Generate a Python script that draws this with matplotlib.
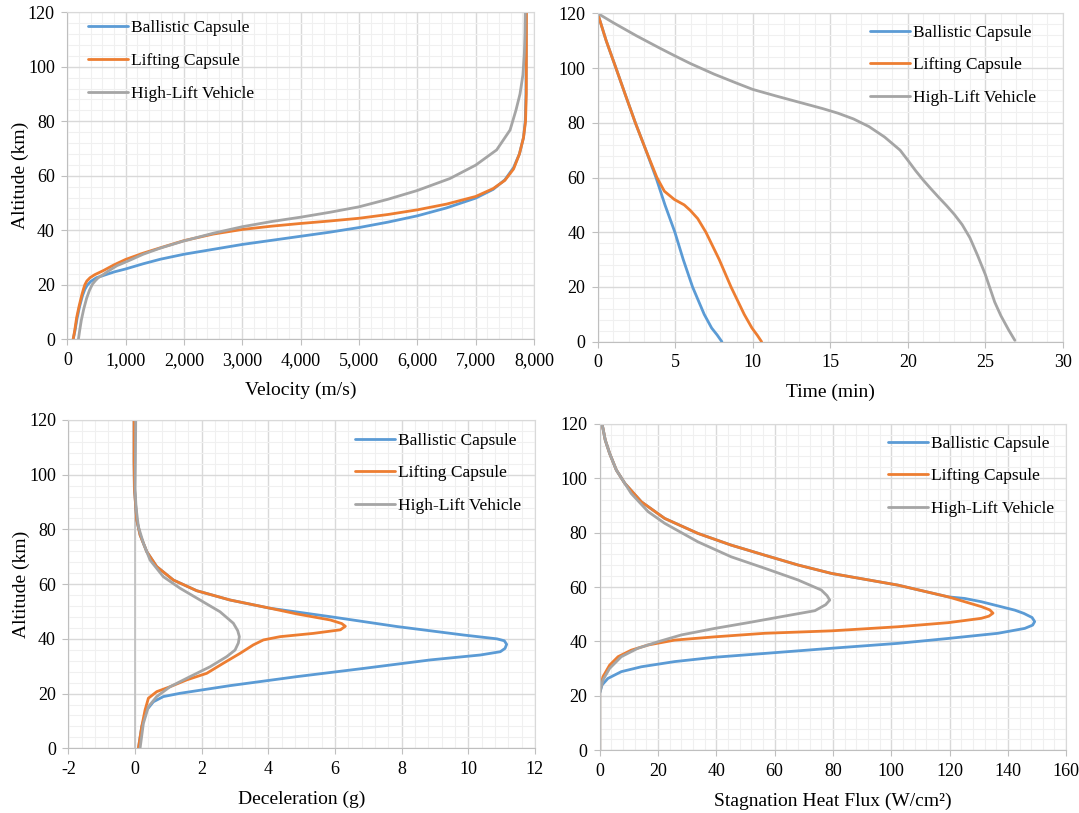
import matplotlib.pyplot as plt
from matplotlib.ticker import MultipleLocator, FuncFormatter

plt.rcParams['font.family'] = ['Liberation Serif', 'DejaVu Serif']
plt.rcParams['axes.unicode_minus'] = False

BLUE = '#5B9BD5'
ORANGE = '#ED7D31'
GRAY = '#A5A5A5'
LABELS = ['Ballistic Capsule', 'Lifting Capsule', 'High-Lift Vehicle']

# --- velocity (m/s) vs altitude (km) ---
vel_ball = [100, 130, 170, 210, 260, 300, 340, 400, 500, 617, 800, 1000, 1300, 1600, 2000, 2500, 3000, 3500,
            4000, 4500, 5000, 5500, 6000, 6500, 7000, 7300, 7500, 7650, 7750, 7820, 7850, 7862, 7865, 7865]
alt_vel_ball = [0, 3, 8, 12, 16, 18.3, 19.8, 21.2, 22.6, 23.4, 24.7, 25.8, 27.7, 29.4, 31.2, 33, 34.8, 36.3,
                37.8, 39.3, 41, 43, 45.3, 48.2, 51.8, 55, 58.5, 63, 68, 74, 80, 90, 105, 120]
vel_lift = [100, 125, 160, 200, 245, 275, 300, 335, 390, 470, 617, 800, 1000, 1300, 1600, 2000, 2500, 3000, 3500,
            4000, 4500, 5000, 5500, 6000, 6500, 7000, 7300, 7500, 7650, 7750, 7820, 7855, 7868, 7870, 7870]
alt_vel_lift = [0, 3, 8, 12, 16, 18.3, 20, 21.4, 22.6, 23.7, 25.2, 27.3, 29.3, 31.6, 33.6, 36.2, 38.6, 40.3, 41.5,
                42.5, 43.4, 44.4, 45.8, 47.5, 49.6, 52.4, 55.3, 58.3, 62.5, 68, 74, 80, 90, 105, 120]
vel_hl = [190, 210, 240, 280, 330, 380, 430, 480, 531, 620, 700, 850, 1018, 1300, 1600, 2000, 2500, 3000, 3500,
          4000, 4500, 5000, 5500, 6000, 6560, 7000, 7360, 7590, 7690, 7760, 7810, 7835, 7845, 7850]
alt_vel_hl = [0, 3, 7, 11, 15, 18, 20.2, 21.5, 22.6, 23.8, 25, 27, 28.5, 31.2, 33.5, 36.1, 38.9, 41.3, 43.2,
              44.8, 46.6, 48.6, 51.4, 54.6, 59, 63.9, 69.5, 76.8, 84, 90, 97, 105, 112, 120]

# --- time (min) vs altitude (km) ---
t_ball = [0, 0.55, 1.18, 1.8, 2.43, 3.11, 3.76, 4.34, 4.98, 5.52, 6.12, 6.87, 7.35, 7.7, 8.01]
alt_t_ball = [120, 110, 100, 90, 80, 70, 60, 50, 40, 30, 20, 10, 5, 2.5, 0]
t_lift = [0, 0.55, 1.18, 1.8, 2.43, 3.11, 3.82, 4.3, 4.94, 5.58, 5.97, 6.45, 6.98, 7.84, 8.6,
          9.45, 9.95, 10.3, 10.57]
alt_t_lift = [120, 110, 100, 90, 80, 70, 60, 55, 52, 50, 48, 45, 40, 30, 20,
              10, 5, 2.3, 0]
t_hl = [0, 1, 2.5, 4, 5, 6, 7.5, 9, 10, 11.5, 13, 14.5, 15.5, 16.5, 17.5, 18.5, 19.5, 20, 20.5, 21,
        21.5, 22, 22.5, 23, 23.5, 24, 24.5, 25, 25.3, 25.6, 26, 26.5, 26.9]
alt_t_hl = [120, 116.6, 111.8, 107.3, 104.4, 101.6, 97.8, 94.4, 92.2, 89.8, 87.5, 85.2, 83.5, 81.4, 78.6, 74.8, 70,
            66.3, 62.5, 59, 55.8, 52.7, 49.7, 46.5, 42.8, 38, 31.5, 24.5, 19.5, 14.5, 9.5, 4.3, 0.5]

# --- deceleration (g) vs altitude (km) ---
dec_ball = [0.1, 0.2, 0.35, 0.55, 0.85, 1.35, 2.85, 4.86, 6.86, 8.86, 10.36, 10.96, 11.1, 11.15, 11.08,
            10.86, 9.86, 7.86, 5.86, 4.05, 2.85, 1.85, 1.15, 0.65, 0.35, 0.15, 0.05, -0.02, -0.03, -0.03]
alt_dec_ball = [0, 7.9, 14, 17, 18.9, 20.1, 22.9, 26.2, 29.2, 32.3, 34.1, 35.3, 36.5, 38, 39.3,
                40, 41.4, 44.5, 48.1, 51.2, 54.2, 57.6, 61.5, 66.4, 71.9, 78, 83.5, 95, 105, 120]
dec_lift = [0.1, 0.2, 0.3, 0.4, 0.65, 1.05, 1.55, 2.15, 2.65, 3.15, 3.55, 3.85, 4.35, 5.35, 6.16, 6.31,
            6.2, 5.86, 4.86, 4.05, 2.85, 1.85, 1.15, 0.65, 0.35, 0.15, 0.05, -0.02, -0.03, -0.03]
alt_dec_lift = [0, 7.9, 14, 18.3, 20.7, 22.5, 25, 27.4, 31.1, 34.7, 37.8, 39.6, 40.8, 42, 43.3, 44.6,
                45.6, 46.9, 49.1, 51.2, 54.2, 57.6, 61.5, 66.4, 71.9, 78, 83.5, 95, 105, 120]
dec_hl = [0.15, 0.25, 0.4, 0.65, 1.05, 1.65, 2.25, 2.75, 3.0, 3.1, 3.13, 3.08, 2.95, 2.55, 1.95, 1.35, 0.85,
          0.45, 0.25, 0.1, 0.03, 0.0, 0.01, 0.02]
alt_dec_hl = [0, 9.1, 15.2, 18.9, 22.5, 26.2, 29.8, 33.5, 35.9, 38.5, 40.8, 43, 45.7, 49.9, 54.2, 58.5, 62.7,
              68.8, 75, 81, 88, 95, 105, 120]

# --- stagnation heat flux (W/cm2) vs altitude (km) ---
q_ball = [0, 0, 0.8, 2.8, 7.4, 14.3, 25.7, 39.5, 56.6, 79.5, 102.3, 119.5, 136.6, 145.8, 148.5, 149.2,
          148.3, 145.5, 142.4, 130.9, 125.2, 119.5, 102.3, 79.5, 68, 56.6, 45.1, 33.7, 22.3, 14.3, 8.6,
          5.7, 3.4, 1.9, 0.8]
alt_q_ball = [0, 21, 24, 26.4, 28.9, 30.7, 32.6, 34.2, 35.6, 37.5, 39.3, 41.1, 43, 44.8, 46, 47.3,
              48.8, 50.3, 51.5, 54.6, 55.8, 56.4, 60.7, 65, 68.1, 71.7, 75.4, 79.7, 85.2, 91.3, 98.1,
              103, 109.1, 114, 120]
q_lift = [0, 0, 1.1, 3.4, 6.3, 10.8, 16.6, 25.7, 39.5, 56.6, 79.5, 102.3, 119.5, 130.9, 133.5, 134.9,
          133.8, 130.9, 119.5, 102.3, 79.5, 68, 56.6, 45.1, 33.7, 22.3, 14.3, 8.6, 5.7, 3.4, 1.9, 0.8]
alt_q_lift = [0, 22, 27, 31.3, 34.4, 36.8, 38.7, 40.5, 41.7, 43, 43.9, 45.4, 46.9, 48.5, 49.3, 50.4,
              51.6, 52.8, 56.4, 60.7, 65, 68.1, 71.7, 75.4, 79.7, 85.2, 91.3, 98.1, 103, 109.1, 114, 120]
q_hl = [0, 0, 1.1, 3.4, 7.4, 13.1, 20, 28, 39.5, 50.9, 62.3, 73.8, 77.5, 78.9, 78, 76, 68, 56.6, 45.1,
        33.7, 22.3, 16.6, 10.8, 8.6, 5.7, 3.4, 1.9, 0.8]
alt_q_hl = [0, 21, 25.8, 30.1, 34.4, 37.5, 39.9, 42.4, 44.8, 46.9, 49.1, 51.3, 53.5, 55.2, 56.8, 58.9,
            62.6, 66.9, 71.1, 76.6, 83.4, 87.7, 94.4, 98.1, 103, 109.1, 114, 120]


def style_axes(ax, xlim, xmajor, xminor):
    ax.set_xlim(*xlim)
    ax.set_ylim(0, 120)
    ax.xaxis.set_major_locator(MultipleLocator(xmajor))
    ax.xaxis.set_minor_locator(MultipleLocator(xminor))
    ax.yaxis.set_major_locator(MultipleLocator(20))
    ax.yaxis.set_minor_locator(MultipleLocator(4))
    ax.grid(which='major', color='#d9d9d9', linewidth=1.0)
    ax.grid(which='minor', color='#f0f0f0', linewidth=0.8)
    ax.set_axisbelow(True)
    for side in ['top', 'right']:
        ax.spines[side].set_color('#d9d9d9')
    for side in ['left', 'bottom']:
        ax.spines[side].set_color('#bfbfbf')
    ax.tick_params(which='major', length=4, color='#bfbfbf', labelsize=13, pad=5)
    ax.tick_params(which='minor', length=0)


def add_lines(ax, series):
    for (x, y), c, lab in zip(series, [BLUE, ORANGE, GRAY], LABELS):
        ax.plot(x, y, color=c, linewidth=2.0, label=lab,
                solid_capstyle='round', solid_joinstyle='round')


def add_legend(ax, anchor):
    ax.legend(loc='upper left', bbox_to_anchor=anchor, frameon=False, fontsize=12.5,
              handlelength=2.3, handletextpad=0.17, labelspacing=0.95,
              borderaxespad=0)


fig = plt.figure(figsize=(10.79, 8.13), dpi=100)

ax1 = fig.add_axes([0.0624, 0.5827, 0.4325, 0.4022])
add_lines(ax1, [(vel_ball, alt_vel_ball), (vel_lift, alt_vel_lift), (vel_hl, alt_vel_hl)])
style_axes(ax1, (0, 8000), 1000, 200)
ax1.xaxis.set_major_formatter(FuncFormatter(lambda v, p: f'{int(v):,}'))
ax1.set_xlabel('Velocity (m/s)', fontsize=14, labelpad=9)
ax1.set_ylabel('Altitude (km)', fontsize=14, labelpad=-1)
add_legend(ax1, (0.029, 0.997))

ax2 = fig.add_axes([0.5539, 0.5797, 0.4312, 0.4039])
add_lines(ax2, [(t_ball, alt_t_ball), (t_lift, alt_t_lift), (t_hl, alt_t_hl)])
style_axes(ax2, (0, 30), 5, 1)
ax2.set_xlabel('Time (min)', fontsize=14, labelpad=9)
add_legend(ax2, (0.570, 0.987))

ax3 = fig.add_axes([0.0634, 0.0796, 0.4324, 0.4038])
ax3.axvline(0, color='#bfbfbf', linewidth=1.2, zorder=1)
add_lines(ax3, [(dec_ball, alt_dec_ball), (dec_lift, alt_dec_lift), (dec_hl, alt_dec_hl)])
style_axes(ax3, (-2, 12), 2, 0.4)
ax3.set_xlabel('Deceleration (g)', fontsize=14, labelpad=9)
ax3.set_ylabel('Altitude (km)', fontsize=14, labelpad=-1)
add_legend(ax3, (0.599, 0.983))

ax4 = fig.add_axes([0.5558, 0.0771, 0.4323, 0.4017])
add_lines(ax4, [(q_ball, alt_q_ball), (q_lift, alt_q_lift), (q_hl, alt_q_hl)])
style_axes(ax4, (0, 160), 20, 4)
ax4.set_xlabel('Stagnation Heat Flux (W/cm²)', fontsize=14, labelpad=9)
add_legend(ax4, (0.603, 0.985))

fig.savefig('out.png', dpi=100)
